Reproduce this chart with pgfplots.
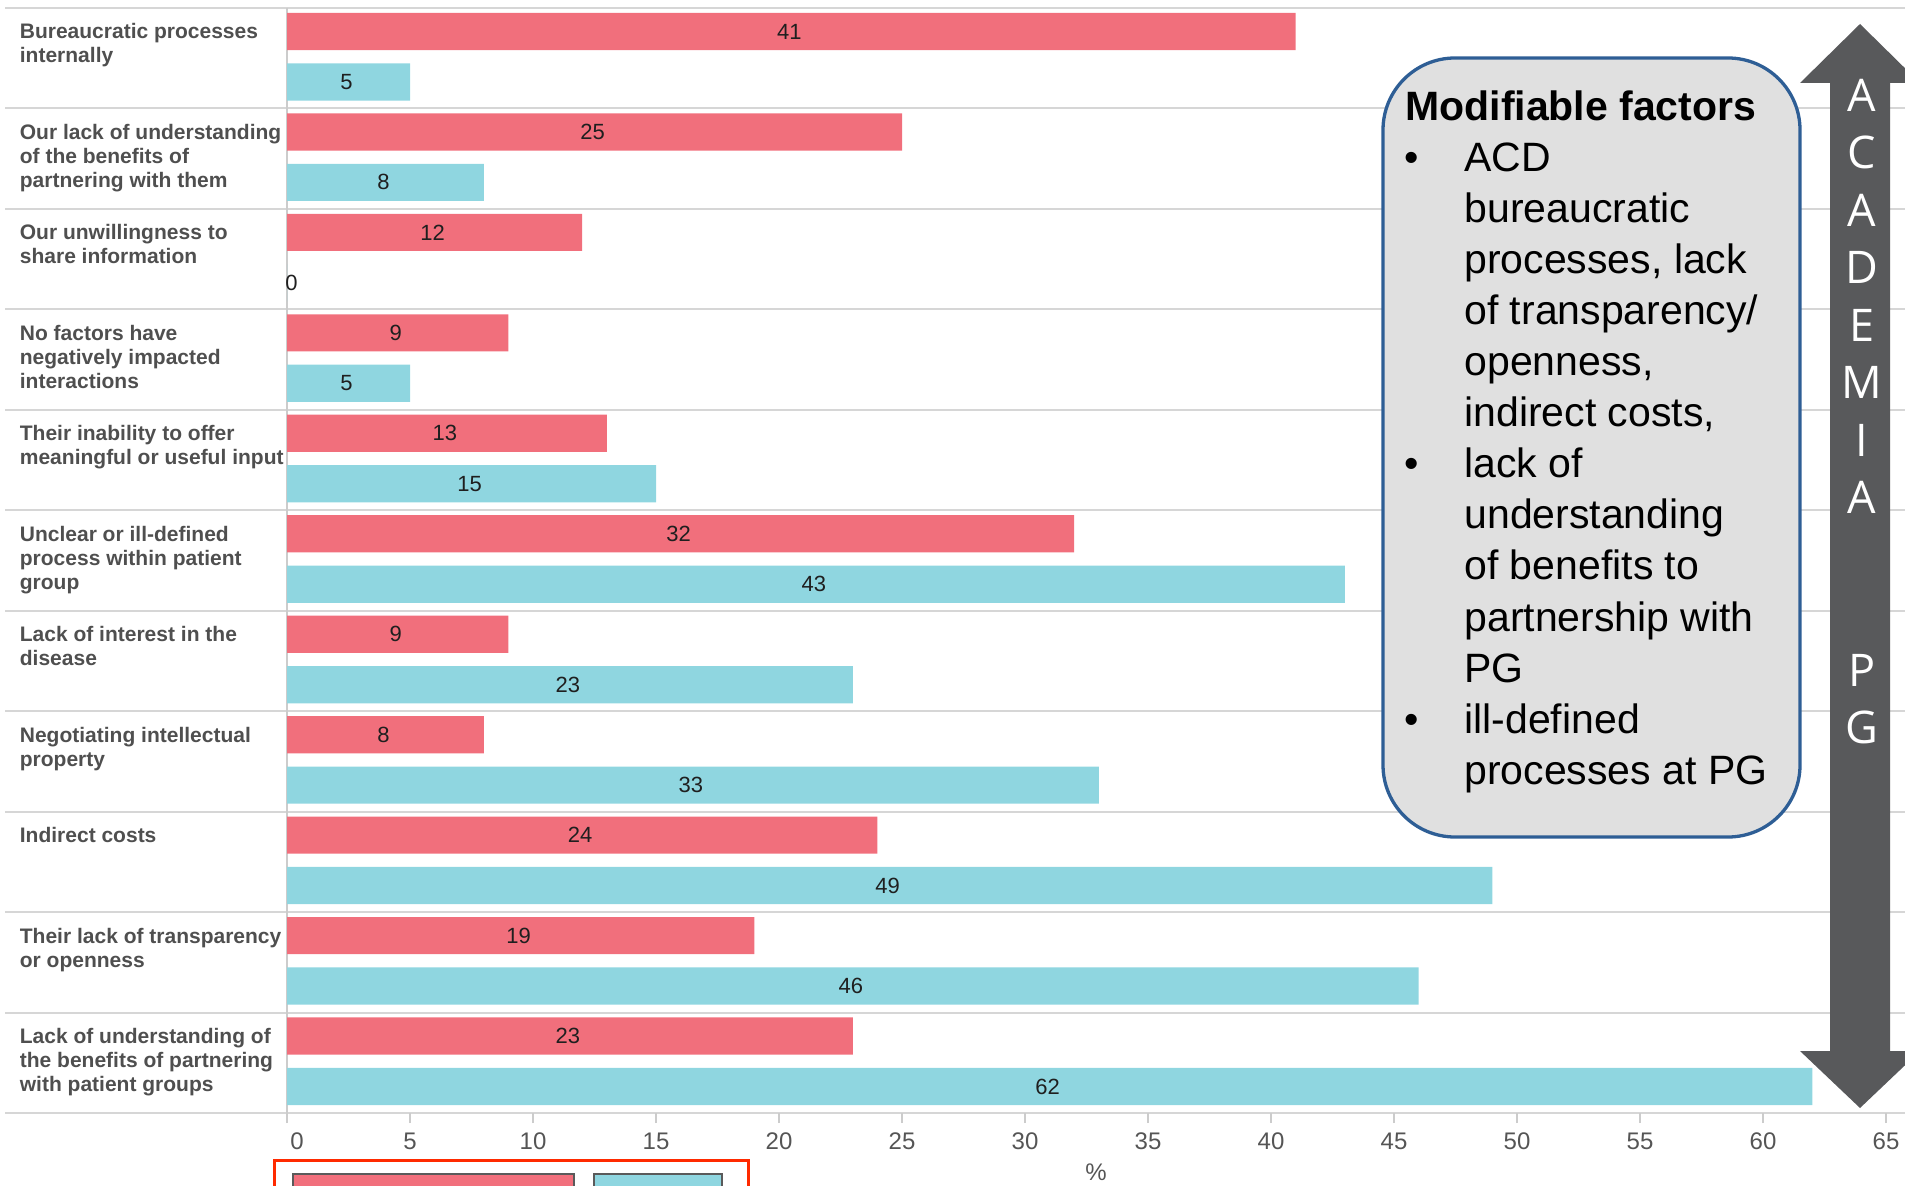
\documentclass[border=0pt]{standalone}
\usepackage{pgfplots}
\pgfplotsset{compat=1.18}
\usepackage{pgfplotstable}
\usepackage{fontspec}
\setmainfont{Liberation Sans}
\newfontfamily\osans{Open Sans}
\definecolor{barred}{HTML}{F16F7C}
\definecolor{barcyan}{HTML}{8FD6E0}
\definecolor{arrowgray}{HTML}{58595B}
\definecolor{boxblue}{HTML}{2E5E95}
\definecolor{boxfill}{HTML}{E0E0E0}
\definecolor{sepgray}{HTML}{D6D6D6}
\definecolor{labgray}{HTML}{4F4F4F}
\definecolor{tickgray}{HTML}{555555}
\definecolor{legred}{HTML}{FF2A00}
\definecolor{legborder}{HTML}{5A5A5A}

% row 0 = top category
\pgfplotstableread{
row red cyan
0 41 5
1 25 8
2 12 0
3 9 5
4 13 15
5 32 43
6 9 23
7 8 33
8 24 49
9 19 46
10 23 62
}\data

\newcommand{\rowlab}[3]{%
  \node[anchor=base west, inner sep=0pt, font=\bfseries\fontsize{10.5pt}{12pt}\selectfont, text=labgray] at (19.5, {8+100.4545*#1+31+24*#2}) {#3};}
\newcommand{\boxline}[2]{%
  \node[anchor=base west, inner sep=0pt, font=\fontsize{20.5pt}{24pt}\selectfont] at (1464,#1) {#2};}
\newcommand{\boxbullet}[1]{%
  \node[anchor=base west, inner sep=0pt, font=\fontsize{20.5pt}{24pt}\selectfont] at (1404,#1) {\textbullet};}
\newcommand{\vletter}[2]{%
  \node[anchor=center, inner sep=0pt, text=white, font=\osans\fontsize{22.5pt}{27pt}\selectfont] at (1862,#1) {#2};}

\begin{document}
\begin{tikzpicture}
\path[use as bounding box] (0,0) rectangle (952.5pt,592.5pt);
% background: separators, axis line, category labels (pixel frame, y down)
\begin{scope}[x=0.5pt,y=-0.5pt,yshift=592.5pt]
  \foreach \i in {0,...,11} {
    \draw[sepgray, line width=1pt] (5,{8+100.4545*\i}) -- (1905,{8+100.4545*\i});
  }
  \draw[gray!40, line width=0.8pt] (287,8) -- (287,1123);
  \rowlab{0}{0}{Bureaucratic processes}
  \rowlab{0}{1}{internally}
  \rowlab{1}{0}{Our lack of understanding}
  \rowlab{1}{1}{of the benefits of}
  \rowlab{1}{2}{partnering with them}
  \rowlab{2}{0}{Our unwillingness to}
  \rowlab{2}{1}{share information}
  \rowlab{3}{0}{No factors have}
  \rowlab{3}{1}{negatively impacted}
  \rowlab{3}{2}{interactions}
  \rowlab{4}{0}{Their inability to offer}
  \rowlab{4}{1}{meaningful or useful input}
  \rowlab{5}{0}{Unclear or ill-defined}
  \rowlab{5}{1}{process within patient}
  \rowlab{5}{2}{group}
  \rowlab{6}{0}{Lack of interest in the}
  \rowlab{6}{1}{disease}
  \rowlab{7}{0}{Negotiating intellectual}
  \rowlab{7}{1}{property}
  \rowlab{8}{0}{Indirect costs}
  \rowlab{9}{0}{Their lack of transparency}
  \rowlab{9}{1}{or openness}
  \rowlab{10}{0}{Lack of understanding of}
  \rowlab{10}{1}{the benefits of partnering}
  \rowlab{10}{2}{with patient groups}
\end{scope}

\begin{axis}[
  at={(143.5pt,36pt)}, anchor=south west,
  scale only axis, width=809pt, height=552.5pt,
  xmin=0, xmax=65.77, ymin=0, ymax=11,
  axis line style={draw=none},
  ytick=\empty,
  xtick={5,10,...,65},
  extra x ticks={0},
  extra x tick style={xticklabel style={xshift=5pt}},
  xtick pos=bottom, tick align=outside,
  major tick length=5pt,
  tick style={draw=gray!40, line width=0.8pt},
  /pgf/number format/assume math mode=true,
  xticklabel style={font=\fontsize{12pt}{14pt}\selectfont, text=tickgray, anchor=center, yshift=-9pt},
  xlabel={\%},
  xlabel style={font=\fontsize{12pt}{14pt}\selectfont, text=tickgray, at={(axis description cs:0.5,0)}, anchor=center, yshift=-29.5pt},
  clip=false,
]
\addplot[xbar, bar shift=0pt, bar width=0.37, fill=barred, draw=none]
  table[x=red, y expr=11-\thisrow{row}-0.234]{\data};
\addplot[xbar, bar shift=0pt, bar width=0.37, fill=barcyan, draw=none]
  table[x=cyan, y expr=11-\thisrow{row}-0.736]{\data};
\addplot[draw=none, mark=none, nodes near coords, point meta=explicit symbolic,
  every node near coord/.append style={anchor=center, inner sep=0pt, xshift=-1pt, font=\fontsize{11pt}{13pt}\selectfont, text=black!88}]
  table[x expr={max(\thisrow{red}/2,0.22)}, y expr=11-\thisrow{row}-0.234, meta=red]{\data};
\addplot[draw=none, mark=none, nodes near coords, point meta=explicit symbolic,
  every node near coord/.append style={anchor=center, inner sep=0pt, xshift=-1pt, font=\fontsize{11pt}{13pt}\selectfont, text=black!88}]
  table[x expr={max(\thisrow{cyan}/2,0.26)}, y expr=11-\thisrow{row}-0.736, meta=cyan]{\data};
\end{axis}

% foreground: text box, arrow, legend fragment
\begin{scope}[x=0.5pt,y=-0.5pt,yshift=592.5pt]
  \draw[boxblue, line width=1.65pt, fill=boxfill, rounded corners=36pt] (1383,58) rectangle (1800,837);
  \node[anchor=base west, inner sep=0pt, font=\bfseries\fontsize{20.5pt}{24pt}\selectfont] at (1405,121) {Modifiable factors};
  \boxbullet{172}
  \boxline{172}{ACD}
  \boxline{223}{bureaucratic}
  \boxline{274}{processes, lack}
  \boxline{325}{of transparency/}
  \boxline{376}{openness,}
  \boxline{427}{indirect costs,}
  \boxbullet{478}
  \boxline{478}{lack of}
  \boxline{529}{understanding}
  \boxline{580}{of benefits to}
  \boxline{631}{partnership with}
  \boxline{682}{PG}
  \boxbullet{733}
  \boxline{733}{ill-defined}
  \boxline{784}{processes at PG}
  % double arrow
  \fill[arrowgray] (1860,24) -- (1920,83) -- (1890,83) -- (1890,1051) -- (1920,1051) -- (1860,1108)
     -- (1800,1051) -- (1830,1051) -- (1830,83) -- (1800,83) -- cycle;
  \vletter{95}{A}
  \vletter{152.5}{C}
  \vletter{210}{A}
  \vletter{267.5}{D}
  \vletter{325}{E}
  \vletter{382.5}{M}
  \vletter{440}{I}
  \vletter{497.5}{A}
  \vletter{670}{P}
  \vletter{727.5}{G}
  % legend fragment at bottom
  \draw[legred, line width=1.5pt] (274,1210) -- (274,1160) -- (748,1160) -- (748,1210);
  \draw[legborder, line width=1pt, fill=barred] (293,1174) rectangle (574,1210);
  \draw[legborder, line width=1pt, fill=barcyan] (594,1174) rectangle (722,1210);
\end{scope}
\end{tikzpicture}
\end{document}
